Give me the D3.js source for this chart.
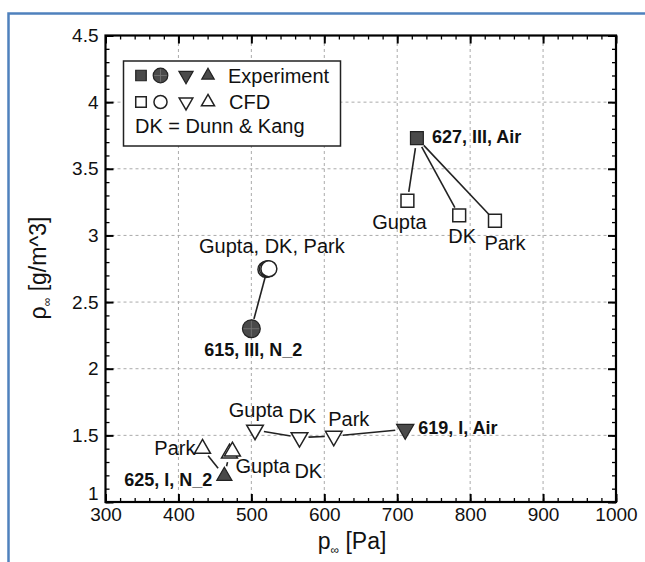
<!DOCTYPE html>
<html><head><meta charset="utf-8">
<script src="https://cdn.jsdelivr.net/npm/d3@7"></script>
<style>body{margin:0;background:#fff}svg{display:block}text{font-family:"Liberation Sans",Arial,sans-serif}</style>
</head><body>
<script>
// ---- data ----
const xTickValues = [300,400,500,600,700,800,900,1000];
const yTickValues = [1,1.5,2,2.5,3,3.5,4,4.5];
const expNames  = ["627, III, Air","615, III, N_2","619, I, Air","625, I, N_2"];
const expShapes = ["square","circle","triangleDown","triangle"];
const expP      = [727, 500, 711, 463];
const expRho    = [3.73, 2.30, 1.545, 1.195];
const cfdCase   = [0,0,0, 1,1,1, 2,2,2, 3,3,3];
const cfdModel  = ["Gupta","DK","Park","Gupta","DK","Park","Gupta","DK","Park","Gupta","DK","Park"];
const cfdP      = [714, 785, 834, 520, 522, 524, 505, 566, 613, 470, 474, 433];
const cfdRho    = [3.26, 3.15, 3.11, 2.745, 2.75, 2.75, 1.54, 1.484, 1.494, 1.365, 1.38, 1.40];
const linkFrom  = ["E0","E0","E0","E1","E2","C8","C7","E3","E3"];
const linkTo    = ["C0","C1","C2","C4","C8","C7","C6","C11","C9"];
const labelText = ["627, III, Air","Gupta","DK","Park","615, III, N_2","Gupta, DK, Park",
                   "619, I, Air","Gupta","DK","Park","625, I, N_2","Park","Gupta","DK"];
const labelAt   = ["E0","C0","C1","C2","E1","C5","E2","C6","C7","C8","E3","C11","C9","C10"];
const legendRows = ["Experiment","CFD","DK = Dunn & Kang"];

// ---- layout / style ----
const W = 645, H = 562;
const labelLayout = [ // [dx, dy, anchor, bold]
  [15,5,"start",1],[-8,28,"middle",0],[3,28,"middle",0],[10,29,"middle",0],
  [2,27,"middle",1],[3,-16,"middle",0],
  [13,5,"start",1],[1,-13,"middle",0],[3,-14,"middle",0],[15,-10,"middle",0],
  [-12,10,"end",1],[-7,6,"end",0],[6,20,"start",0],[62,27,"start",0]
];
const svg = d3.select("body").append("svg").attr("width",W).attr("height",H);
svg.append("rect").attr("width",W).attr("height",H).attr("fill","#fff");
// blue frame
svg.append("path").attr("d",`M${W+5},13.5 H8.5 V${H+5}`).attr("fill","none")
  .attr("stroke","#4f81bd").attr("stroke-width",2.5);

const x = d3.scaleLinear().domain([300,1000]).range([105.5,616]);
const y = d3.scaleLinear().domain([1,4.5]).range([502,35.5]);

// grid
const g = svg.append("g");
g.selectAll(".gx").data(xTickValues.slice(1,-1)).join("line")
  .attr("x1",d=>x(d)).attr("x2",d=>x(d)).attr("y1",y(1)).attr("y2",y(4.5))
  .attr("stroke","#aaa").attr("stroke-width",1).attr("stroke-dasharray","3,3");
g.selectAll(".gy").data(yTickValues.slice(1,-1)).join("line")
  .attr("y1",d=>y(d)).attr("y2",d=>y(d)).attr("x1",x(300)).attr("x2",x(1000))
  .attr("stroke","#aaa").attr("stroke-width",1).attr("stroke-dasharray","3,3");

// axes
const xMinor = d3.range(300,1001,20), yMinor = d3.range(10,46,1).map(v=>v/10);
function ax(axisFn, scale, ticks, size, fmt, tr, labels){
  const a = axisFn(scale).tickValues(ticks).tickSize(size).tickSizeOuter(0);
  if(fmt) a.tickFormat(fmt); else a.tickFormat("");
  const s = svg.append("g").attr("transform",tr).call(a);
  s.select(".domain").remove();
  s.selectAll(".tick line").attr("stroke","#000").attr("stroke-width",labels?2:1.3);
  s.selectAll("text").attr("font-size",19).attr("fill","#111");
  return s;
}
// bottom
ax(d3.axisTop, x, xMinor, 4, null, `translate(0,${y(1)})`);
ax(d3.axisTop, x, xTickValues, 8, null, `translate(0,${y(1)})`, true);
const xl = svg.append("g").attr("transform",`translate(0,${y(1)})`)
  .call(d3.axisBottom(x).tickValues(xTickValues).tickSize(0).tickPadding(6).tickFormat(d3.format("d")));
xl.select(".domain").remove(); xl.selectAll("text").attr("font-size",19).attr("fill","#111");
// top
ax(d3.axisBottom, x, xMinor, 4, null, `translate(0,${y(4.5)})`);
ax(d3.axisBottom, x, xTickValues, 8, null, `translate(0,${y(4.5)})`, true);
// left
ax(d3.axisRight, y, yMinor, 4, null, `translate(${x(300)},0)`);
ax(d3.axisRight, y, yTickValues, 8, null, `translate(${x(300)},0)`, true);
const yl = svg.append("g").attr("transform",`translate(${x(300)},0)`)
  .call(d3.axisLeft(y).tickValues(yTickValues).tickSize(0).tickPadding(7).tickFormat(d=>String(d)));
yl.select(".domain").remove(); yl.selectAll("text").attr("font-size",19).attr("fill","#111");
yl.selectAll(".tick").filter(d=>d===1).select("text").attr("dy","-0.15em");
// right
ax(d3.axisLeft, y, yMinor, 4, null, `translate(${x(1000)},0)`);
ax(d3.axisLeft, y, yTickValues, 8, null, `translate(${x(1000)},0)`, true);
// frame
svg.append("rect").attr("x",x(300)).attr("y",y(4.5)).attr("width",x(1000)-x(300)).attr("height",y(1)-y(4.5))
  .attr("fill","none").attr("stroke","#000").attr("stroke-width",2.2);

// axis titles
const xt = svg.append("text").attr("x",352).attr("y",549).attr("text-anchor","middle").attr("font-size",23).attr("fill","#111");
xt.append("tspan").text("p");
xt.append("tspan").text("∞").attr("font-size",12).attr("dy",5);
xt.append("tspan").text(" [Pa]").attr("dy",-5);
const yt = svg.append("text").attr("transform",`translate(46,268) rotate(-90)`).attr("text-anchor","middle").attr("font-size",23).attr("fill","#111");
yt.append("tspan").text("ρ");
yt.append("tspan").text("∞").attr("font-size",12).attr("dy",5);
yt.append("tspan").text(" [g/m^3]").attr("dy",-5);

// points
const pts = {};
expP.forEach((p,i)=>pts["E"+i]={px:x(p),py:y(expRho[i]),shape:expShapes[i],filled:true});
cfdP.forEach((p,i)=>pts["C"+i]={px:x(p),py:y(cfdRho[i]),shape:expShapes[cfdCase[i]],filled:false});

// links
linkFrom.forEach((f,i)=>{
  const a=pts[f], b=pts[linkTo[i]];
  const dx=b.px-a.px, dy=b.py-a.py, L=Math.hypot(dx,dy);
  const ga = f[0]==="E"?10:9, gb=9;
  svg.append("line")
    .attr("x1",a.px+dx/L*ga).attr("y1",a.py+dy/L*ga)
    .attr("x2",b.px-dx/L*gb).attr("y2",b.py-dy/L*gb)
    .attr("stroke","#222").attr("stroke-width",1.6);
});

const symType = {square:d3.symbolSquare,circle:d3.symbolCircle,triangle:d3.symbolTriangle,triangleDown:d3.symbolTriangle};
function drawSym(parent, shape, cx, cy, filled, scale){
  const sizes = {square:165,circle:filled?250:200,triangle:filled?100:110,triangleDown:filled?130:120};
  parent.append("path")
    .attr("d",d3.symbol().type(symType[shape]).size(sizes[shape]*scale*scale)())
    .attr("transform",`translate(${cx},${cy})${shape==="triangleDown"?" rotate(180)":""}`)
    .attr("fill",filled?"#4a4a4a":"#fff").attr("stroke","#222").attr("stroke-width",filled?1.2:1.5);
  if(filled && shape==="circle"){
    const r = Math.sqrt(sizes.circle/Math.PI)*scale;
    parent.append("path").attr("d",`M${cx-r+1},${cy}H${cx+r-1}M${cx},${cy-r+1}V${cy+r-1}`)
      .attr("stroke","#777").attr("stroke-width",0.8);
  }
}
Object.keys(pts).filter(k=>k[0]==="C").forEach(k=>{const p=pts[k];drawSym(svg,p.shape,p.px,p.py,false,1);});
Object.keys(pts).filter(k=>k[0]==="E").forEach(k=>{const p=pts[k];drawSym(svg,p.shape,p.px,p.py,true,1);});

// labels
labelText.forEach((t,i)=>{
  const p=pts[labelAt[i]], L=labelLayout[i];
  svg.append("text").attr("x",p.px+L[0]).attr("y",p.py+L[1]).attr("text-anchor",L[2])
    .attr("font-size",L[3]?18:20).attr("font-weight",L[3]?"bold":"normal").attr("fill","#111").text(t);
});

// legend
const lg = svg.append("g");
lg.append("rect").attr("x",123.5).attr("y",61).attr("width",217).attr("height",85)
  .attr("fill","#fff").attr("stroke","#222").attr("stroke-width",1.5);
const symX = [141,160.5,186,208];
[0,1].forEach(r=>{
  const cy = r===0?75.5:102;
  expShapes.forEach((s,j)=>drawSym(lg,s,symX[j],cy,r===0,0.82));
  lg.append("text").attr("x",r===0?228:229).attr("y",cy+7).attr("font-size",20).attr("fill","#111").text(legendRows[r]);
});
lg.append("text").attr("x",135).attr("y",133).attr("font-size",20).attr("fill","#111").text(legendRows[2]);
</script>
</body></html>
